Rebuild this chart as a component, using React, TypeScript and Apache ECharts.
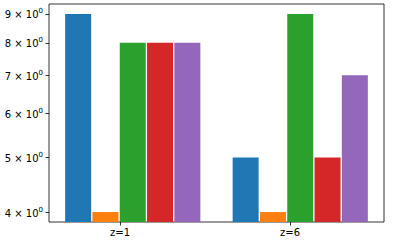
import React, { useEffect, useRef } from "react";
import * as echarts from "echarts";

const categories = ["z=1", "z=6"];
const seriesA = [9, 5];
const seriesB = [4, 4];
const seriesC = [8, 9];
const seriesD = [8, 5];
const seriesE = [8, 7];
const yTicks = [4, 5, 6, 7, 8, 9];
const colors = ["#1f77b4", "#ff7f0e", "#2ca02c", "#d62728", "#9467bd"];
const yMin = 3.84;
const yMax = 9.376;

export default function App() {
  const ref = useRef<HTMLDivElement>(null);
  useEffect(() => {
    if (!ref.current) return;
    const chart = echarts.init(ref.current, undefined, { renderer: "svg" });
    const all = [seriesA, seriesB, seriesC, seriesD, seriesE];
    const textStyle = { color: "#000", fontSize: 10, fontFamily: "DejaVu Sans" };
    chart.setOption({
      animation: false,
      grid: {
        left: 49,
        top: 4,
        right: 17,
        bottom: 25,
        show: true,
        borderColor: "#000",
        borderWidth: 0.8,
        backgroundColor: "transparent",
      },
      xAxis: [
        {
          type: "category",
          data: categories,
          axisLine: { show: false },
          axisTick: { show: false },
          axisLabel: { show: false },
          splitLine: { show: false },
        },
        {
          type: "value",
          position: "bottom",
          min: -71 / 170,
          max: 264 / 170,
          axisLine: { show: false, onZero: false },
          splitLine: { show: false },
          axisTick: { show: true, length: 3.5, customValues: [0, 1], lineStyle: { color: "#000", width: 0.8 } },
          axisLabel: {
            customValues: [0, 1],
            margin: 5,
            ...textStyle,
            formatter: (v: number) => categories[Math.round(v)] ?? "",
          },
        },
      ],
      yAxis: {
        type: "value",
        min: Math.log10(yMin),
        max: Math.log10(yMax),
        axisLine: { show: false, onZero: false },
        splitLine: { show: false },
        axisTick: {
          show: true,
          length: 3.5,
          customValues: yTicks.map((t) => Math.log10(t)),
          lineStyle: { color: "#000", width: 0.8 },
        },
        axisLabel: {
          customValues: yTicks.map((t) => Math.log10(t)),
          margin: 6,
          ...textStyle,
          formatter: (v: number) => `{a|${Math.round(Math.pow(10, v))} × 10}{s|0}`,
          rich: {
            a: { fontSize: 10, fontFamily: "DejaVu Sans", color: "#000", verticalAlign: "bottom", lineHeight: 12 },
            s: { fontSize: 7, fontFamily: "DejaVu Sans", color: "#000", verticalAlign: "bottom", lineHeight: 12, padding: [0, 0, 5, 0] },
          },
        },
      },
      series: all.map((vals, i) => ({
        type: "bar",
        xAxisIndex: 0,
        data: vals.map((v) => Math.log10(v)),
        barWidth: 26,
        barGap: "5%",
        itemStyle: { color: colors[i] },
        clip: true,
      })),
    });
    return () => chart.dispose();
  }, []);
  return (
    <div
      ref={ref}
      style={{ position: "fixed", left: 0, top: 0, width: 401, height: 247, background: "#fff" }}
    />
  );
}
